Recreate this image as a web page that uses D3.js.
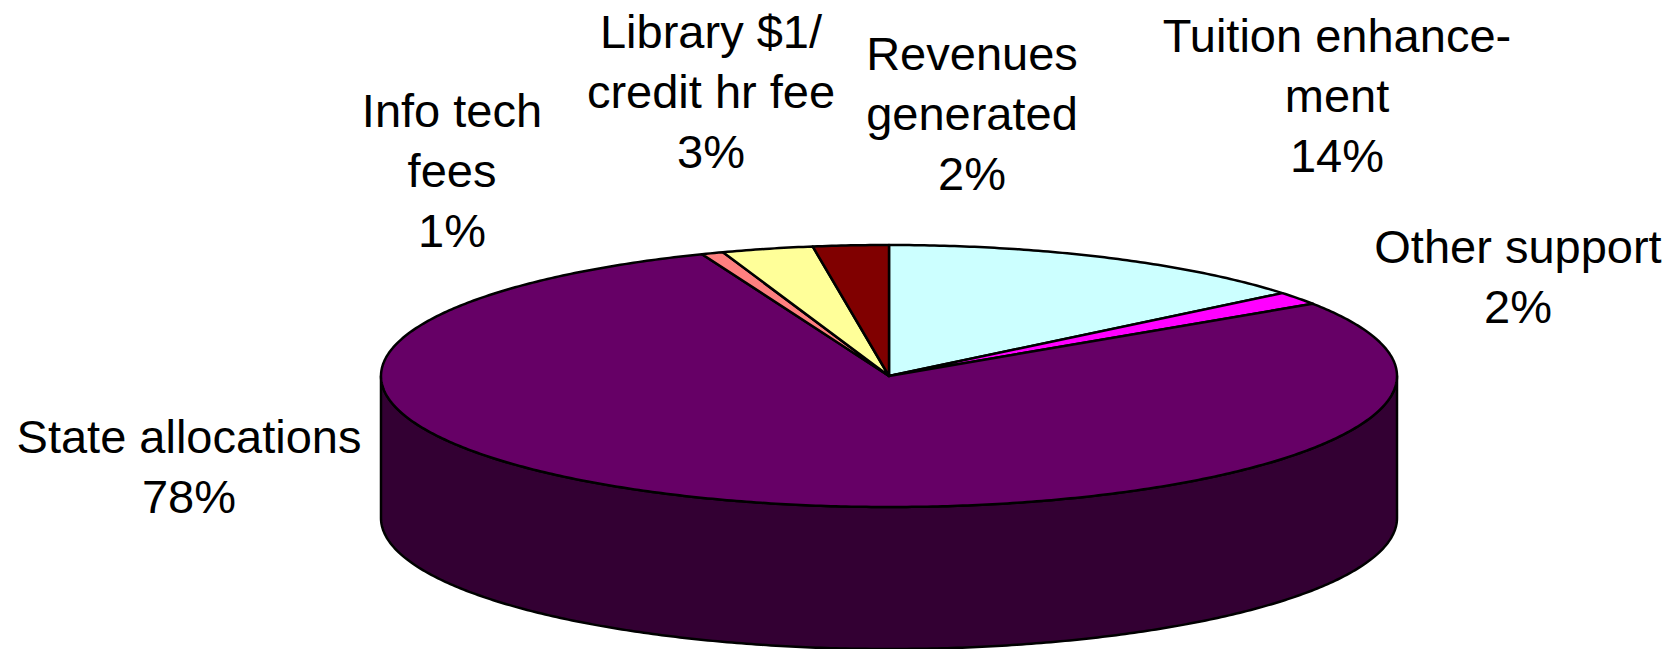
<!DOCTYPE html>
<html>
<head>
<meta charset="utf-8">
<script src="https://cdn.jsdelivr.net/npm/d3@7"></script>
<style>
  html, body { margin: 0; padding: 0; background: #fff; }
  svg { display: block; }
  text { font-family: "Liberation Sans", Arial, sans-serif; font-size: 47px; fill: #000; }
</style>
</head>
<body>
<div id="chart"></div>
<script>
// slice data, clockwise from 12 o'clock
const categories = ["Tuition enhancement", "Other support", "State allocations", "Info tech fees", "Library $1/credit hr fee", "Revenues generated"];
const values = [14.1, 1.6, 78.3, 0.7, 2.9, 2.4];
const labelLines = [["Tuition enhance-", "ment"], ["Other support"], ["State allocations"], ["Info tech", "fees"], ["Library $1/", "credit hr fee"], ["Revenues", "generated"]];

// colours (top face / side wall)
const topColors = ["#CCFFFF", "#FF00FF", "#660066", "#FF8080", "#FFFF99", "#800000"];
const sideColors = ["#668080", "#800080", "#330033", "#804040", "#80804C", "#400000"];

// label anchors: centre x, first baseline
const labelAnchors = [[1337, 52], [1518, 263], [189, 453], [452, 127], [711, 48], [972, 70]];

function drawPie() {
    let width = 1674, height = 649;
    let cx = 889, cy = 376, rx = 508, ry = 131, depth = 142;
    let lineH = 60;

    let svg = d3.select("#chart")
        .append("svg")
        .attr("width", width)
        .attr("height", height);

    let data = categories.map((c, i) => ({ name: c, value: values[i], i: i }));

    let pie = d3.pie()
        .sort(null)
        .value(d => d.value)
        .startAngle(0)
        .endAngle(2 * Math.PI);
    let arcs = pie(data);

    // angle measured clockwise from top -> point on the tilted ellipse
    let px = a => cx + rx * Math.sin(a);
    let py = a => cy - ry * Math.cos(a);

    function arcPoints(a0, a1, dy) {
        let n = Math.max(2, Math.ceil((a1 - a0) / 0.01));
        return d3.range(n + 1).map(k => {
            let a = a0 + (a1 - a0) * k / n;
            return [px(a), py(a) + dy];
        });
    }

    let line = d3.line();

    // side walls: only the front half (pi/2 .. 3pi/2) is visible
    let sides = svg.append("g");
    arcs.forEach(d => {
        let a0 = Math.max(d.startAngle, Math.PI / 2);
        let a1 = Math.min(d.endAngle, 3 * Math.PI / 2);
        if (a1 <= a0) return;
        let pts = arcPoints(a0, a1, 0).concat(arcPoints(a0, a1, depth).reverse());
        sides.append("path")
            .attr("d", line(pts) + "Z")
            .attr("fill", sideColors[d.data.i])
            .attr("stroke", "#000")
            .attr("stroke-width", 2.5)
            .attr("stroke-linejoin", "round");
    });

    // top faces
    svg.append("g")
        .selectAll("path")
        .data(arcs)
        .enter()
        .append("path")
        .attr("d", d => line([[cx, cy]].concat(arcPoints(d.startAngle, d.endAngle, 0))) + "Z")
        .attr("fill", d => topColors[d.data.i])
        .attr("stroke", "#000")
        .attr("stroke-width", 2.5)
        .attr("stroke-linejoin", "round");

    // labels
    let labels = svg.append("g")
        .selectAll("text")
        .data(arcs)
        .enter()
        .append("text")
        .attr("text-anchor", "middle")
        .attr("x", d => labelAnchors[d.data.i][0])
        .attr("y", d => labelAnchors[d.data.i][1]);

    labels.each(function(d) {
        let t = d3.select(this);
        let lines = labelLines[d.data.i].concat([Math.round(d.data.value) + "%"]);
        lines.forEach((s, k) => {
            t.append("tspan")
                .attr("x", labelAnchors[d.data.i][0])
                .attr("y", labelAnchors[d.data.i][1] + k * lineH)
                .text(s);
        });
    });
}

window.onload = () => {
    drawPie();
}
</script>
</body>
</html>
